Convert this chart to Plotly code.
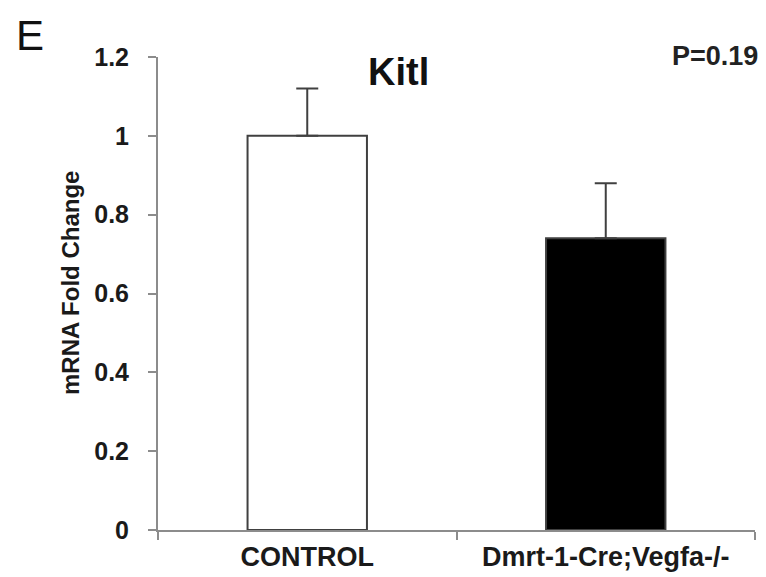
import plotly.graph_objects as go

categories = ["CONTROL", "Dmrt-1-Cre;Vegfa-/-"]
values = [1.0, 0.74]
errors = [0.12, 0.14]
bar_colors = ["white", "black"]
y_ticks = [0, 0.2, 0.4, 0.6, 0.8, 1, 1.2]
y_tick_labels = ["0", "0.2", "0.4", "0.6", "0.8", "1", "1.2"]

FONT = "Arial, Liberation Sans, sans-serif"
W, H = 766, 577
ML, MR, MT, MB = 158, 11, 57, 47

fig = go.Figure()
fig.add_trace(go.Bar(
    x=categories, y=values,
    marker=dict(color=bar_colors, line=dict(color="#404040", width=2)),
    width=0.4,
    error_y=dict(type="data", array=errors, arrayminus=[0, 0], symmetric=False,
                 color="#404040", thickness=2, width=11),
))

pw, ph = W - ML - MR, H - MT - MB
def px(x): return (x - ML) / pw
def py(y): return (H - MB - y) / ph

fig.update_layout(
    width=W, height=H,
    margin=dict(l=ML, r=MR, t=MT, b=MB, autoexpand=False),
    plot_bgcolor="white", paper_bgcolor="white",
    showlegend=False,
    font=dict(family=FONT, color="#1a1a1a"),
    xaxis=dict(
        automargin=False,
        showline=True, linecolor="#8c8c8c", linewidth=2,
        ticks="outside", tickson="boundaries", ticklen=8, tickcolor="#8c8c8c", tickwidth=2,
        tickfont=dict(size=27, family=FONT, color="#1a1a1a", weight="bold"),
        ticklabelstandoff=2,
        showgrid=False,
    ),
    yaxis=dict(
        automargin=False,
        range=[0, 1.2], tickvals=y_ticks, ticktext=y_tick_labels,
        showline=True, linecolor="#8c8c8c", linewidth=2,
        ticks="outside", ticklen=8, tickcolor="#8c8c8c", tickwidth=2,
        tickfont=dict(size=25, family=FONT, color="#1a1a1a", weight="bold"),
        ticklabelstandoff=14,
        showgrid=False, zeroline=False,
    ),
    annotations=[
        dict(text="<b>Kitl</b>", xref="paper", yref="paper", x=px(398), y=py(72),
             xanchor="center", yanchor="middle", showarrow=False,
             font=dict(size=38, family=FONT, color="#111")),
        dict(text="<b>P=0.19</b>", xref="paper", yref="paper", x=px(715), y=py(56),
             xanchor="center", yanchor="middle", showarrow=False,
             font=dict(size=27, family=FONT, color="#222")),
        dict(text="E", xref="paper", yref="paper", x=px(30), y=py(36),
             xanchor="center", yanchor="middle", showarrow=False,
             font=dict(size=42, family=FONT, color="#111")),
        dict(text="<b>mRNA Fold Change</b>", xref="paper", yref="paper", x=px(70), y=py(283),
             xanchor="center", yanchor="middle", showarrow=False, textangle=-90,
             font=dict(size=24, family=FONT, color="#1a1a1a")),
    ],
)

fig.write_html("out.html")
